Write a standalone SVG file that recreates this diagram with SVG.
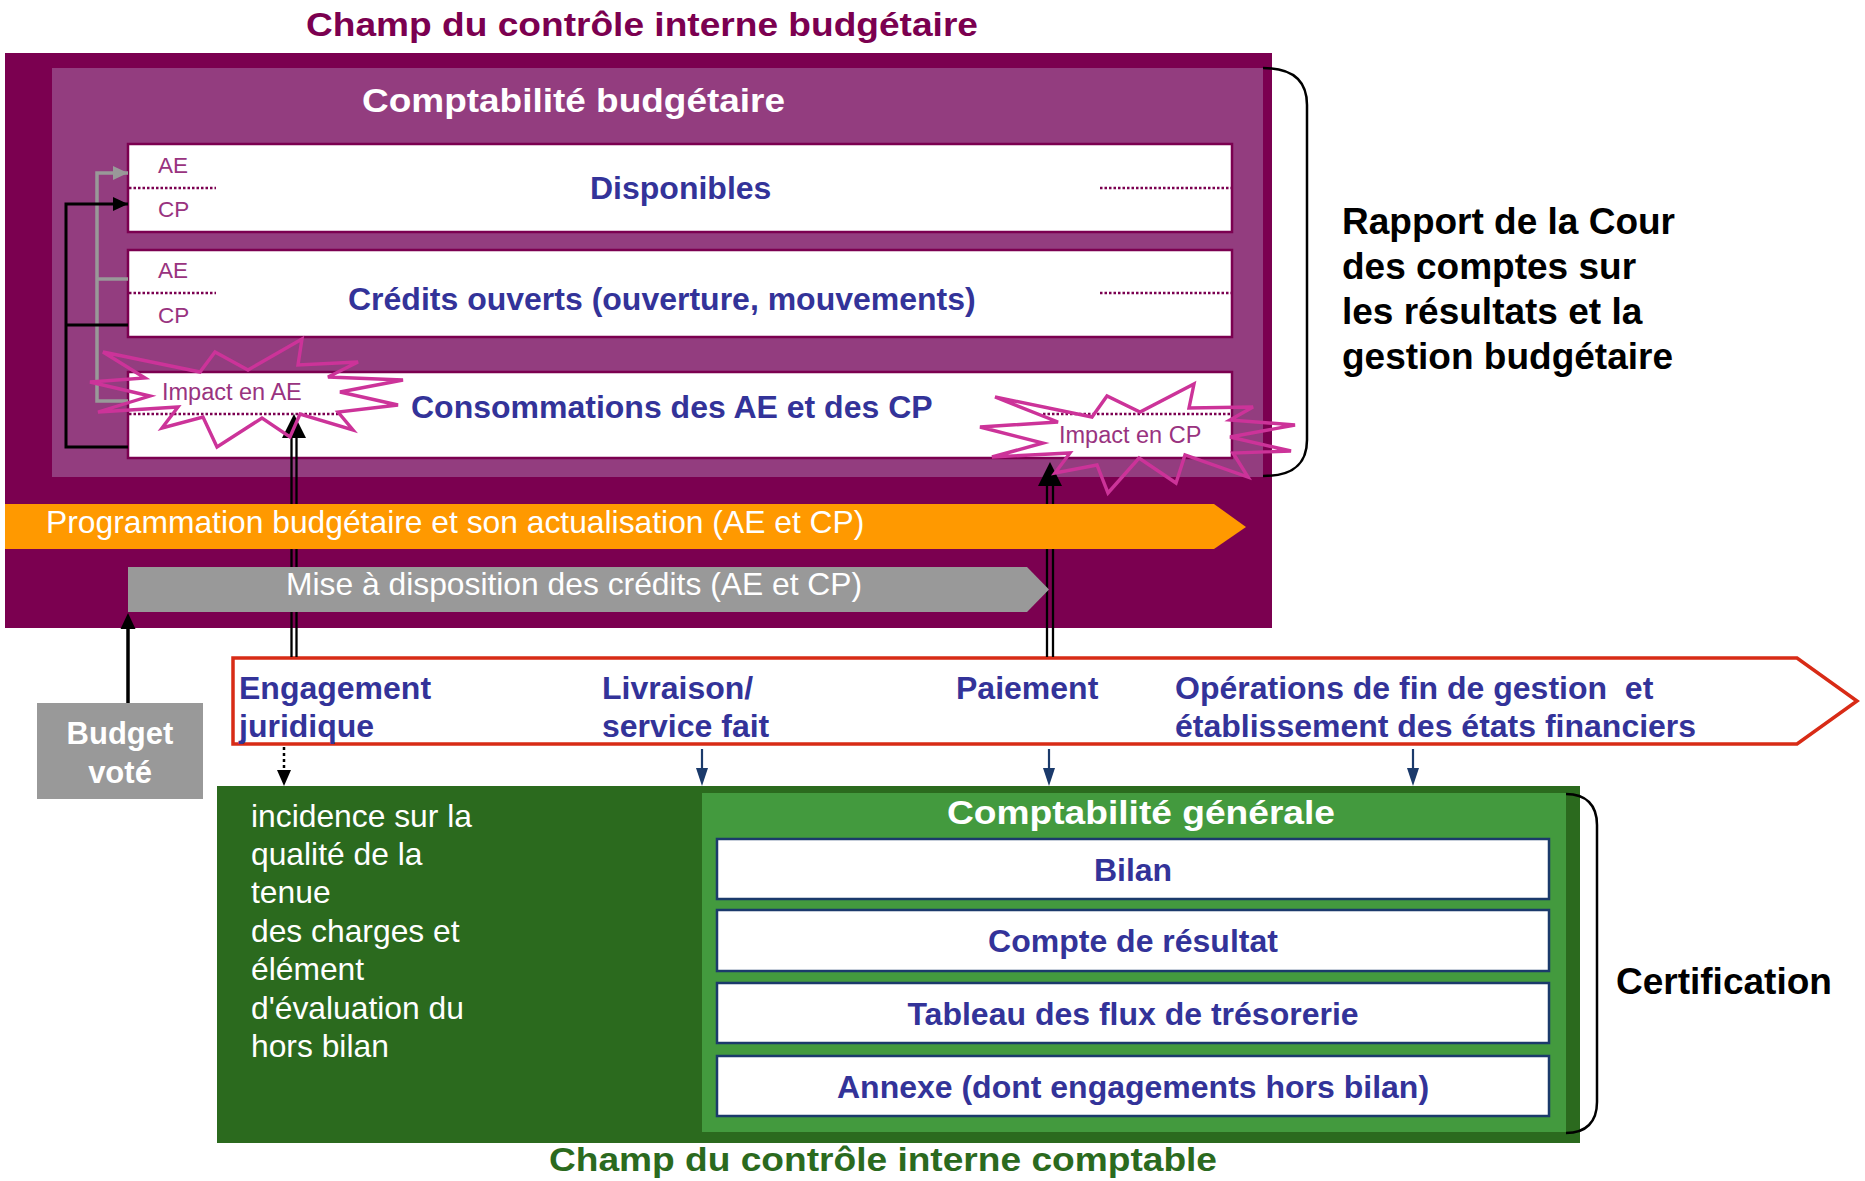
<svg xmlns="http://www.w3.org/2000/svg" width="1865" height="1181" viewBox="0 0 1865 1181">
<defs>
<style>
text{font-family:"Liberation Sans",Arial,Helvetica,sans-serif}
.b{font-weight:bold}
.navy{fill:#333399}
.w{fill:#ffffff}
.box{fill:#ffffff;stroke:#7B0050;stroke-width:2.5}
.gbox{fill:#ffffff;stroke:#1B3A6B;stroke-width:2.5}
.dot{fill:none;stroke:#7B0050;stroke-width:2.5;stroke-dasharray:2.5 2}
.lbl{fill:#993380;font-size:22.5px}
.star{fill:none;stroke:#CC3399;stroke-width:3.4;stroke-linejoin:miter;stroke-miterlimit:4}
.brace{fill:none;stroke:#000000;stroke-width:2.5}
.boxt{font-size:32px;font-weight:bold;fill:#333399}
.proc{font-size:32px;font-weight:bold;fill:#333399}
.gt{font-size:31.8px;fill:#ffffff}
.big{font-size:37px;font-weight:bold;fill:#000000}
</style>
<marker id="ah-gray" markerUnits="userSpaceOnUse" markerWidth="16" markerHeight="16" refX="15" refY="8" orient="auto">
<path d="M0,1 L15,8 L0,15 z" fill="#999999"/>
</marker>
<marker id="ah-black" markerUnits="userSpaceOnUse" markerWidth="16" markerHeight="16" refX="15" refY="8" orient="auto">
<path d="M0,1 L15,8 L0,15 z" fill="#000000"/>
</marker>
</defs>

<rect x="0" y="0" width="1865" height="1181" fill="#ffffff"/>

<g id="champ-controle-budgetaire">
<rect x="5" y="53" width="1267" height="575" fill="#7B0050"/>
<text x="306" y="36" class="b" font-size="34" fill="#7B0050" textLength="672" lengthAdjust="spacingAndGlyphs">Champ du contrôle interne budgétaire</text>
</g>

<g id="comptabilite-budgetaire">
<rect x="52" y="68" width="1211" height="409" fill="#933D7F"/>
<text x="362" y="112" class="b w" font-size="34" textLength="423" lengthAdjust="spacingAndGlyphs">Comptabilité budgétaire</text>
</g>

<g id="disponibles">
<rect x="128" y="144" width="1104" height="88" class="box"/>
<line x1="129" y1="188" x2="216" y2="188" class="dot"/>
<line x1="1100" y1="188" x2="1231" y2="188" class="dot"/>
<text x="158" y="173" class="lbl">AE</text>
<text x="158" y="217" class="lbl">CP</text>
<text x="590" y="199" class="boxt">Disponibles</text>
</g>

<g id="credits-ouverts">
<rect x="128" y="250" width="1104" height="87" class="box"/>
<line x1="129" y1="293" x2="216" y2="293" class="dot"/>
<line x1="1100" y1="293" x2="1231" y2="293" class="dot"/>
<text x="158" y="278" class="lbl">AE</text>
<text x="158" y="323" class="lbl">CP</text>
<text x="348" y="310" class="boxt">Crédits ouverts (ouverture, mouvements)</text>
</g>

<g id="consommations">
<rect x="128" y="372" width="1104" height="86" class="box"/>
<line x1="129" y1="414" x2="340" y2="414" class="dot"/>
<line x1="1043" y1="414" x2="1231" y2="414" class="dot"/>
<text x="411" y="418" class="boxt">Consommations des AE et des CP</text>
</g>

<g id="budget-vote">
<rect x="37" y="703" width="166" height="96" fill="#999999"/>
<text x="120" y="744" text-anchor="middle" class="b w" font-size="31">Budget</text>
<text x="120" y="783" text-anchor="middle" class="b w" font-size="31">voté</text>
</g>

<g id="processus">
<polygon points="233,658 1797,658 1857,701 1797,744 233,744" fill="#ffffff" stroke="#D82B16" stroke-width="3.5" stroke-linejoin="miter"/>
<text x="239" y="699" class="proc">Engagement</text>
<text x="239" y="737" class="proc">juridique</text>
<text x="602" y="699" class="proc">Livraison/</text>
<text x="602" y="737" class="proc">service fait</text>
<text x="956" y="699" class="proc">Paiement</text>
<text x="1175" y="699" class="proc" xml:space="preserve">Opérations de fin de gestion  et</text>
<text x="1175" y="737" class="proc">établissement des états financiers</text>
</g>

<g id="champ-controle-comptable">
<rect x="217" y="786" width="1363" height="357" fill="#2B6A1E"/>
<text x="251" y="827" class="gt">incidence sur la</text>
<text x="251" y="865" class="gt">qualité de la</text>
<text x="251" y="903" class="gt">tenue</text>
<text x="251" y="942" class="gt">des charges et</text>
<text x="251" y="980" class="gt">élément</text>
<text x="251" y="1019" class="gt">d'évaluation du</text>
<text x="251" y="1057" class="gt">hors bilan</text>
<text x="549" y="1171" class="b" font-size="34" fill="#2B6A1E" textLength="668" lengthAdjust="spacingAndGlyphs">Champ du contrôle interne comptable</text>
</g>

<g id="comptabilite-generale">
<rect x="702" y="793" width="864" height="339" fill="#439A3E"/>
<text x="947" y="824" class="b w" font-size="34" textLength="388" lengthAdjust="spacingAndGlyphs">Comptabilité générale</text>
</g>

<g id="bilan">
<rect x="717" y="839" width="832" height="60" class="gbox"/>
<text x="1133" y="881" text-anchor="middle" class="boxt">Bilan</text>
</g>
<g id="compte-de-resultat">
<rect x="717" y="910" width="832" height="61" class="gbox"/>
<text x="1133" y="952" text-anchor="middle" class="boxt">Compte de résultat</text>
</g>
<g id="tableau-des-flux">
<rect x="717" y="983" width="832" height="60" class="gbox"/>
<text x="1133" y="1025" text-anchor="middle" class="boxt">Tableau des flux de trésorerie</text>
</g>
<g id="annexe">
<rect x="717" y="1056" width="832" height="60" class="gbox"/>
<text x="1133" y="1098" text-anchor="middle" class="boxt">Annexe (dont engagements hors bilan)</text>
</g>

<g id="rapport-cour-des-comptes">
<path d="M1263,68 C1292,68 1307,80 1307,105 L1307,440 C1307,465 1292,476 1263,476" class="brace"/>
<text x="1342" y="234" class="big">Rapport de la Cour</text>
<text x="1342" y="279" class="big">des comptes sur</text>
<text x="1342" y="324" class="big">les résultats et la</text>
<text x="1342" y="369" class="big">gestion budgétaire</text>
</g>

<g id="certification">
<path d="M1566,794 C1586,794 1597,805 1597,825 L1597,1102 C1597,1122 1586,1133 1566,1133" class="brace"/>
<text x="1616" y="994" class="big">Certification</text>
</g>

<g id="connectors">
<polyline points="128,401 97,401 97,173 128,173" fill="none" stroke="#999999" stroke-width="3.5" marker-end="url(#ah-gray)"/>
<line x1="97" y1="279" x2="128" y2="279" stroke="#999999" stroke-width="3.5"/>
<polyline points="128,447 66,447 66,204 128,204" fill="none" stroke="#000000" stroke-width="3" marker-end="url(#ah-black)"/>
<line x1="66" y1="325" x2="128" y2="325" stroke="#000000" stroke-width="3"/>

<line x1="291.5" y1="657" x2="291.5" y2="436" stroke="#000000" stroke-width="2.3"/>
<line x1="296.5" y1="657" x2="296.5" y2="436" stroke="#000000" stroke-width="2.3"/>
<polygon points="294,414 282,438 306,438" fill="#000000"/>

<line x1="1047" y1="657" x2="1047" y2="484" stroke="#000000" stroke-width="2.3"/>
<line x1="1053" y1="657" x2="1053" y2="484" stroke="#000000" stroke-width="2.3"/>
<polygon points="1050,462 1038,486 1062,486" fill="#000000"/>

<line x1="128" y1="703" x2="128" y2="626" stroke="#000000" stroke-width="3.5"/>
<polygon points="128,613 120.5,629 135.5,629" fill="#000000"/>

<line x1="284" y1="747" x2="284" y2="772" stroke="#000000" stroke-width="2.5" stroke-dasharray="3 3"/>
<polygon points="284,786 277,770 291,770" fill="#000000"/>

<line x1="702" y1="749" x2="702" y2="770" stroke="#1B3A6B" stroke-width="2.2"/>
<polygon points="702,786 696,768 708,768" fill="#1B3A6B"/>
<line x1="1049" y1="749" x2="1049" y2="770" stroke="#1B3A6B" stroke-width="2.2"/>
<polygon points="1049,786 1043,768 1055,768" fill="#1B3A6B"/>
<line x1="1413" y1="749" x2="1413" y2="770" stroke="#1B3A6B" stroke-width="2.2"/>
<polygon points="1413,786 1407,768 1419,768" fill="#1B3A6B"/>
</g>

<g id="programmation">
<polygon points="5,504 1214,504 1246,527 1214,549 5,549" fill="#FF9900"/>
<text x="46" y="533" font-size="31.8" class="w">Programmation budgétaire et son actualisation (AE et CP)</text>
</g>

<g id="mise-a-disposition">
<polygon points="128,567 1027,567 1049,589.5 1027,612 128,612" fill="#999999"/>
<text x="286" y="595" font-size="31.8" class="w">Mise à disposition des crédits (AE et CP)</text>
</g>

<g id="impact-ae">
<polygon class="star" points="103,352 200,372 215,352 248,370 302,339 298,365 358,362 328,377 403,380 340,392 398,405 338,412 353,430 300,414 290,437 262,418 217,447 203,417 162,428 178,407 98,412 150,396 90,382 145,378"/>
<text x="162" y="400" fill="#993380" font-size="23.5">Impact en AE</text>
</g>

<g id="impact-cp">
<polygon class="star" points="995,397 1092,417 1107,396 1140,412 1194,384 1189,408 1253,407 1230,420 1295,425 1230,437 1291,451 1233,453 1248,477 1185,455 1176,483 1139,458 1108,493 1097,465 1055,473 1070,453 992,457 1043,443 980,427 1058,422"/>
<text x="1059" y="443" fill="#993380" font-size="23.5">Impact en CP</text>
</g>
</svg>
